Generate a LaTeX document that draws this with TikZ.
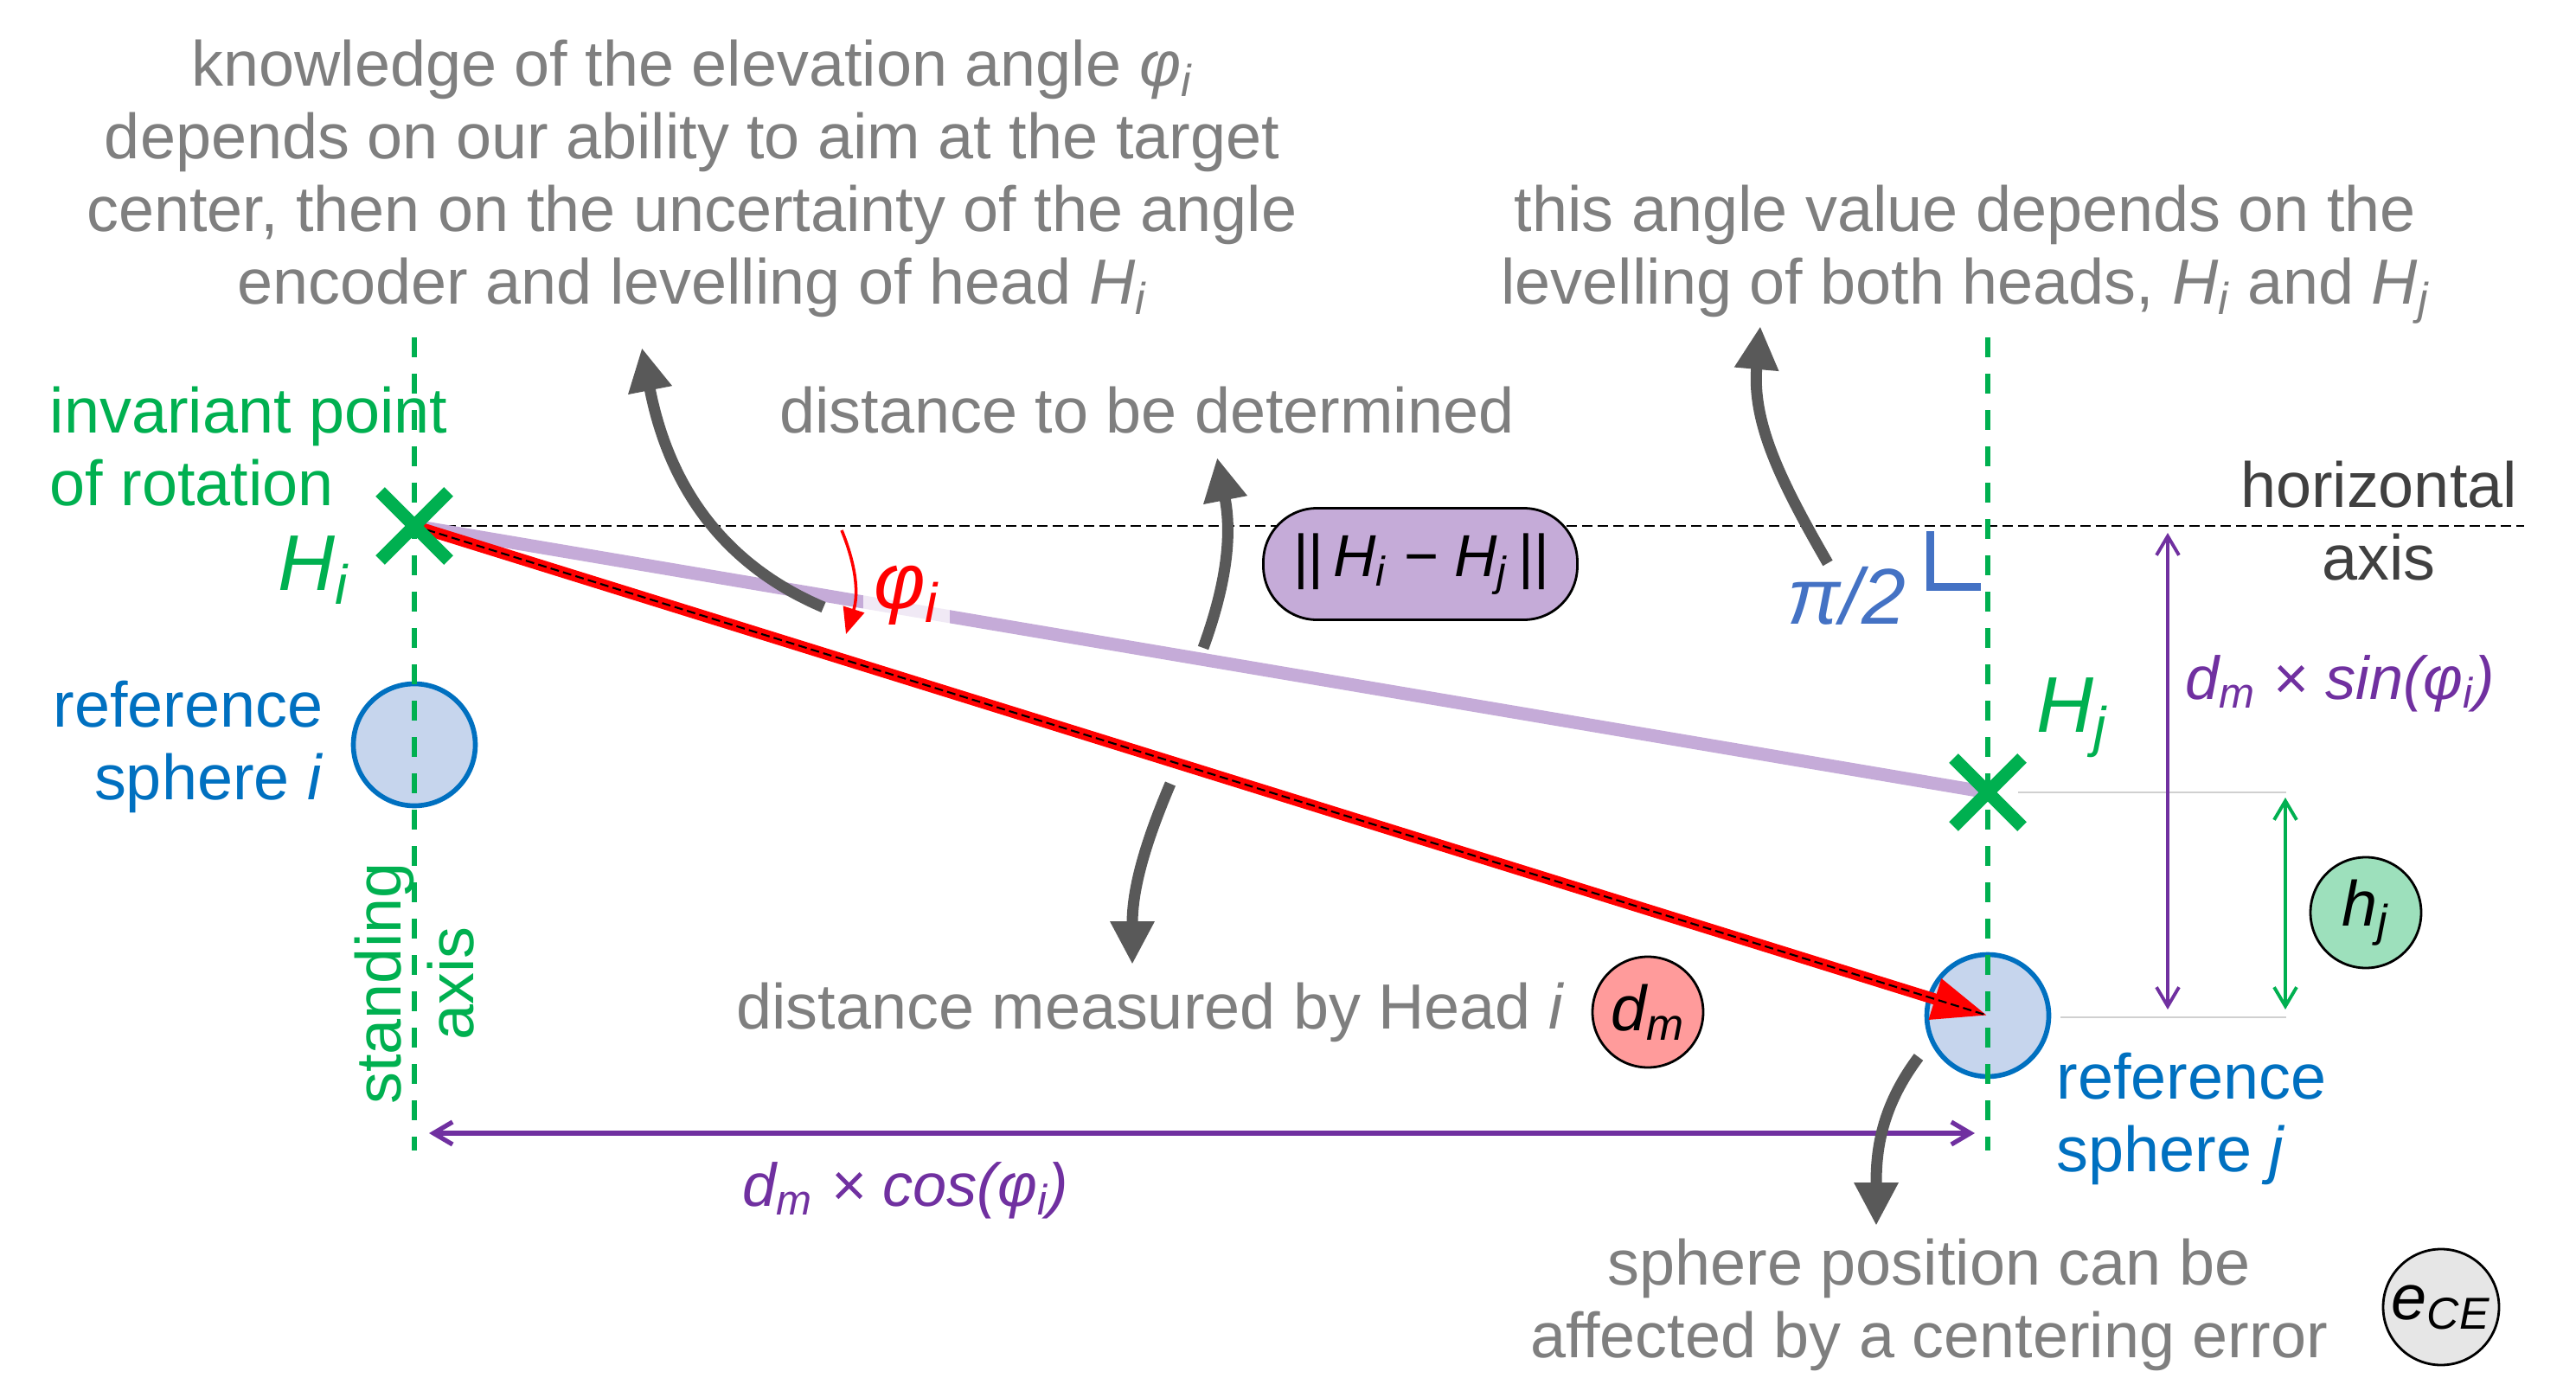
\documentclass[tikz,border=0pt]{standalone}
\usepackage{fontspec}
\setmainfont{Liberation Sans}
\usetikzlibrary{arrows.meta,shapes.misc}

\definecolor{textgray}{HTML}{7F7F7F}
\definecolor{arrowgray}{HTML}{595959}
\definecolor{axisgray}{HTML}{404040}
\definecolor{headgreen}{HTML}{00B050}
\definecolor{sphereblue}{HTML}{0070C0}
\definecolor{spherefill}{HTML}{C6D5ED}
\definecolor{piblue}{HTML}{4472C4}
\definecolor{dimpurple}{HTML}{7030A0}
\definecolor{lavender}{HTML}{C5ABD8}
\definecolor{dmfill}{HTML}{FF9B9B}
\definecolor{hjfill}{HTML}{9DE0BC}
\definecolor{cefill}{HTML}{E6E6E6}
\definecolor{levelgray}{HTML}{D0D0D0}

\newcommand{\txtsize}{\fontsize{21}{23.9}\selectfont}
\newcommand{\symsize}{\fontsize{20}{23}\selectfont}
\newcommand{\normsize}{\fontsize{19.5}{22}\selectfont}
\newcommand{\bigsize}{\fontsize{26}{30}\selectfont}
\newcommand{\idx}[1]{\textsubscript{\itshape #1}}

\begin{document}
\begin{tikzpicture}[
  note/.style={text=textgray, font=\txtsize, inner sep=0pt, align=center},
  sphere/.style={circle, draw=sphereblue, line width=1.6pt, fill=spherefill, minimum size=1.41cm, inner sep=0pt},
  cross/.style={cross out, draw=headgreen, line width=0.15cm, minimum size=0.64cm, inner sep=0pt},
  tag/.style={circle, draw=black, line width=0.8pt, minimum size=1.28cm, inner sep=0pt, font=\txtsize\itshape},
  standline/.style={headgreen, line width=1.8pt, dash pattern=on 0.23cm off 0.19cm},
  bendarrow/.style={arrowgray, line width=0.13cm, -{Triangle[length=0.5cm,width=0.48cm]}},
  dimarrow/.style={line width=1.1pt, {Straight Barb[length=0.22cm,width=0.26cm]}-{Straight Barb[length=0.22cm,width=0.26cm]}}
]
\useasboundingbox (0,0) rectangle (29.78,15.92);

\coordinate (Hi) at (4.79,9.84);
\coordinate (Hj) at (22.98,6.76);
\coordinate (haxend) at (29.18,9.84);

\draw[black, line width=0.6pt, dash pattern=on 0.12cm off 0.06cm] (Hi) -- (haxend);

\node[sphere] (spi) at (4.79,7.31) {};
\node[sphere] (spj) at (22.98,4.18) {};

\coordinate (ltop) at (4.79,12.02);
\coordinate (lbot) at (4.79,2.62);
\coordinate (rtop) at (22.98,12.02);
\coordinate (rbot) at (22.98,2.62);
\draw[standline] (ltop) -- (lbot);
\draw[standline] (rtop) -- (rbot);

\draw[lavender, line width=0.15cm] (Hi) -- (Hj);
\node[fill=white, fill opacity=0.75, text opacity=1, text=red, font=\bigsize\itshape, inner sep=0.12cm, anchor=base] (phi) at (10.48,8.89) {φ\idx{i}};

\draw[red, line width=0.13cm, -{Triangle[length=0.64cm,width=0.46cm]}] (Hi) -- (spj.center);
\draw[black, line width=0.6pt, dash pattern=on 0.1cm off 0.05cm] (Hi) -- (spj.center);

\node[cross] (Hicross) at (Hi) {};
\node[cross] (Hjcross) at (Hj) {};

\coordinate (phia) at (9.73,9.79);
\coordinate (phib) at (9.78,8.59);
\draw[red, line width=1pt, -{Triangle[length=0.3cm,width=0.25cm]}] (phia) to[bend left=20] (phib);

\node[draw=black, fill=lavender, rounded corners=0.62cm, minimum width=3.63cm, minimum height=1.29cm, line width=0.8pt, font=\normsize\itshape] (norm) at (16.42,9.40) {||\,H\idx{i} − H\idx{j}\,||};

\node[note, anchor=north] (know) at (8.00,15.47) {knowledge of the elevation angle \textit{φ}\idx{i}\\depends on our ability to aim at the target\\center, then on the uncertainty of the angle\\encoder and levelling of head \textit{H}\idx{i}};
\node[note, anchor=north] (level) at (22.72,13.79) {this angle value depends on the\\levelling of both heads, \textit{H}\idx{i} and \textit{H}\idx{j}};
\node[note, anchor=base] (todet) at (13.26,10.92) {distance to be determined};
\node[note, anchor=base] (meas) at (13.30,4.03) {distance measured by Head \textit{i}};
\node[note, anchor=north] (cerr) at (22.30,1.61) {sphere position can be\\affected by a centering error};

\node[note, text=headgreen, anchor=north west, align=left] (inv) at (0.57,11.46) {invariant point\\of rotation};
\node[note, text=headgreen, rotate=90] (stand) at (4.79,4.55) {standing\\axis};
\node[text=headgreen, font=\bigsize\itshape, anchor=base west, inner sep=0pt] (Hilab) at (3.21,9.10) {H\idx{i}};
\node[text=headgreen, font=\bigsize\itshape, anchor=base west, inner sep=0pt] (Hjlab) at (23.54,7.46) {H\idx{j}};

\node[note, text=sphereblue, anchor=north east, align=right] (refi) at (3.74,8.06) {reference\\sphere \textit{i}};
\node[note, text=sphereblue, anchor=north west, align=left] (refj) at (23.77,3.76) {reference\\sphere \textit{j}};
\node[note, text=axisgray, anchor=north] (hax) at (27.50,10.60) {horizontal\\axis};

\node[text=piblue, font=\bigsize\itshape, anchor=base, inner sep=0pt] (halfpi) at (21.35,8.71) {π/2};
\coordinate (rcorner) at (22.31,9.14);
\draw[piblue, line width=0.09cm] (rcorner) ++(0,0.64) -- (rcorner) -- ++(0.59,0);

\coordinate (hjl) at (23.33,6.76);
\coordinate (hjr) at (26.43,6.76);
\coordinate (sjl) at (23.82,4.16);
\coordinate (sjr) at (26.43,4.16);
\draw[levelgray, line width=0.6pt] (hjl) -- (hjr);
\draw[levelgray, line width=0.6pt] (sjl) -- (sjr);

\coordinate (sintop) at (25.06,9.76);
\coordinate (sinbot) at (25.06,4.25);
\draw[dimarrow, dimpurple] (sintop) -- (sinbot);
\node[text=dimpurple, font=\symsize\itshape, anchor=base, inner sep=0pt] (sinlab) at (27.05,7.84) {d\idx{m} × sin(φ\idx{i})};

\coordinate (hjtop) at (26.42,6.70);
\coordinate (hjbot) at (26.42,4.25);
\draw[dimarrow, headgreen] (hjtop) -- (hjbot);

\coordinate (cosl) at (4.96,2.82);
\coordinate (cosr) at (22.83,2.82);
\draw[dimarrow, dimpurple, line width=1.5pt] (cosl) -- (cosr);
\node[text=dimpurple, font=\symsize\itshape, anchor=base, inner sep=0pt] (coslab) at (10.47,1.98) {d\idx{m} × cos(φ\idx{i})};

\node[tag, fill=dmfill] (dm) at (19.05,4.22) {d\idx{m}};
\node[tag, fill=hjfill] (hj) at (27.35,5.37) {h\idx{j}};
\node[tag, fill=cefill, minimum size=1.34cm] (ce) at (28.22,0.81) {e\idx{CE}};

\coordinate (a1s) at (9.52,8.90);
\coordinate (a1e) at (7.42,11.90);
\coordinate (a2s) at (13.91,8.43);
\coordinate (a2e) at (14.07,10.63);
\coordinate (a3s) at (21.13,9.41);
\coordinate (a3e) at (20.35,12.15);
\coordinate (a4s) at (13.53,6.86);
\coordinate (a4e) at (13.09,4.77);
\coordinate (a5s) at (22.18,3.70);
\coordinate (a5e) at (21.69,1.75);
\draw[bendarrow] (a1s) to[out=157,in=-79] (a1e);
\draw[bendarrow] (a2s) to[out=70,in=-79] (a2e);
\draw[bendarrow] (a3s) to[out=120,in=-95] (a3e);
\draw[bendarrow] (a4s) to[out=-113,in=90] (a4e);
\draw[bendarrow] (a5s) to[out=-127,in=90] (a5e);
\end{tikzpicture}
\end{document}
